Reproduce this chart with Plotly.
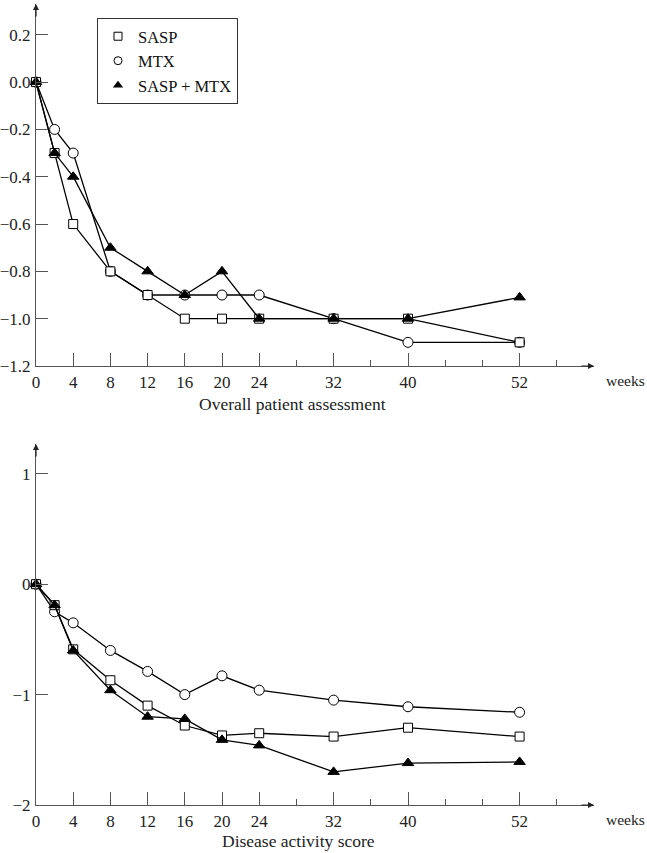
import plotly.graph_objects as go

weeks = [0, 2, 4, 8, 12, 16, 20, 24, 32, 40, 52]

# Overall patient assessment
opa_sasp = [0, -0.3, -0.6, -0.8, -0.9, -1.0, -1.0, -1.0, -1.0, -1.0, -1.1]
opa_mtx = [0, -0.2, -0.3, -0.8, -0.9, -0.9, -0.9, -0.9, -1.0, -1.1, -1.1]
opa_combo = [0, -0.3, -0.4, -0.7, -0.8, -0.9, -0.8, -1.0, -1.0, -1.0, -0.91]

# Disease activity score
das_sasp = [0, -0.19, -0.59, -0.87, -1.10, -1.28, -1.37, -1.35, -1.38, -1.30, -1.38]
das_mtx = [0, -0.25, -0.35, -0.60, -0.79, -1.00, -0.83, -0.96, -1.05, -1.11, -1.16]
das_combo = [0, -0.19, -0.60, -0.96, -1.20, -1.22, -1.41, -1.46, -1.70, -1.62, -1.61]

x_major = [0, 4, 8, 12, 16, 20, 24, 32, 40, 52]
x_minor = [28, 36, 44, 48, 56]
top_yticks = [0.2, 0.0, -0.2, -0.4, -0.6, -0.8, -1.0, -1.2]
bot_yticks = [1, 0, -1, -2]

names = ["SASP", "MTX", "SASP + MTX"]
FONT = "Liberation Serif, Times New Roman, serif"
AX = "#555555"

styles = {
    "SASP": dict(symbol="square", size=9, color="white", line=dict(color="black", width=1)),
    "MTX": dict(symbol="circle", size=10, color="white", line=dict(color="black", width=1)),
    "SASP + MTX": dict(symbol="triangle-up", size=10, color="black", line=dict(color="black", width=1)),
}

fig = go.Figure()

def add_series(xa, ya, series):
    order = [("MTX", series["MTX"]), ("SASP", series["SASP"]), ("SASP + MTX", series["SASP + MTX"])]
    for nm, vals in order:
        fig.add_trace(go.Scatter(
            x=weeks, y=vals, mode="lines+markers", name=nm, showlegend=False,
            xaxis=xa, yaxis=ya, cliponaxis=False,
            line=dict(color="black", width=1.3),
            marker=styles[nm],
        ))

add_series("x", "y", {"SASP": opa_sasp, "MTX": opa_mtx, "SASP + MTX": opa_combo})
add_series("x2", "y2", {"SASP": das_sasp, "MTX": das_mtx, "SASP + MTX": das_combo})

# legend-only marker entries
leg_styles = {
    "SASP": dict(symbol="square-open", size=8, color="black"),
    "MTX": dict(symbol="circle-open", size=8, color="black"),
    "SASP + MTX": dict(symbol="triangle-up", size=9, color="black"),
}
for nm in names:
    fig.add_trace(go.Scatter(x=[None], y=[None], mode="markers", name=nm,
                             marker=leg_styles[nm], xaxis="x", yaxis="y"))

xdom = [36 / 647, 594 / 647]
TICKSIZE = 17

def xaxis_cfg(anchor):
    return dict(
        domain=xdom, range=[0, 60], anchor=anchor, automargin=False,
        showgrid=False, zeroline=False, showline=True, linecolor=AX, linewidth=1.2,
        tickmode="array", tickvals=x_major, ticktext=[str(v) for v in x_major],
        ticks="inside", ticklen=13, tickcolor=AX, tickwidth=1,
        tickfont=dict(family=FONT, size=TICKSIZE, color="#222"),
        minor=dict(tickmode="array", tickvals=x_minor, ticks="inside", ticklen=6,
                   tickcolor=AX, tickwidth=1, showgrid=False),
    )

def yaxis_cfg(anchor, dom, rng, tv, tt):
    return dict(
        domain=dom, range=rng, anchor=anchor, automargin=False,
        showgrid=False, zeroline=False, showline=True, linecolor=AX, linewidth=1.2,
        tickmode="array", tickvals=tv, ticktext=tt,
        ticks="inside", ticklen=12, tickcolor=AX, tickwidth=1,
        ticklabelstandoff=1,
        tickfont=dict(family=FONT, size=TICKSIZE, color="#222"),
    )

fig.update_layout(
    width=647, height=853,
    margin=dict(l=0, r=0, t=0, b=0, autoexpand=False),
    paper_bgcolor="white", plot_bgcolor="white",
    font=dict(family=FONT, size=16, color="#222"),
    xaxis=xaxis_cfg("y"),
    yaxis=yaxis_cfg("x", [(853 - 366) / 853, (853 - 4) / 853], [-1.2, 0.33],
                    top_yticks, [f"{v:.1f}".replace("-", "\u2212") for v in top_yticks]),
    xaxis2=xaxis_cfg("y2"),
    yaxis2=yaxis_cfg("x2", [(853 - 805) / 853, (853 - 444) / 853], [-2, 1.27],
                     bot_yticks, [str(v).replace("-", "\u2212") for v in bot_yticks]),
    showlegend=True,
    legend=dict(
        x=97 / 647, y=1 - 18 / 853, xanchor="left", yanchor="top",
        bordercolor="#333", borderwidth=1, bgcolor="white",
        font=dict(family=FONT, size=16.5, color="#111"),
        itemwidth=30, tracegroupgap=0,
    ),
)

# axis arrows
for xr, yr, ymin, ymax in [("x", "y", -1.2, 0.33), ("x2", "y2", -2, 1.27)]:
    fig.add_annotation(x=60, y=ymin, xref=xr, yref=yr, text="", showarrow=True,
                       ax=-14, ay=0, arrowhead=2, arrowsize=1, arrowwidth=1.2, arrowcolor="#222")
    fig.add_annotation(x=0, y=ymax, xref=xr, yref=yr, text="", showarrow=True,
                       ax=0, ay=14, arrowhead=2, arrowsize=1, arrowwidth=1.2, arrowcolor="#222")
    fig.add_annotation(x=1, y=ymin, xref="paper", yref=yr, text="weeks",
                       showarrow=False, xanchor="right", yanchor="top", yshift=-4, xshift=0,
                       font=dict(family=FONT, size=15.5, color="#222"))

fig.add_annotation(x=292 / 647, y=1 - 404 / 853, xref="paper", yref="paper",
                   text="Overall patient assessment", showarrow=False,
                   font=dict(family=FONT, size=17.5, color="#222"))
fig.add_annotation(x=298 / 647, y=0, xref="paper", yref="paper",
                   text="Disease activity score", showarrow=False,
                   yanchor="bottom", yshift=0,
                   font=dict(family=FONT, size=17.5, color="#222"))

fig.write_html("out.html", config={"displayModeBar": False},
               post_script="document.body.style.margin='0';document.body.style.overflow='hidden';")
